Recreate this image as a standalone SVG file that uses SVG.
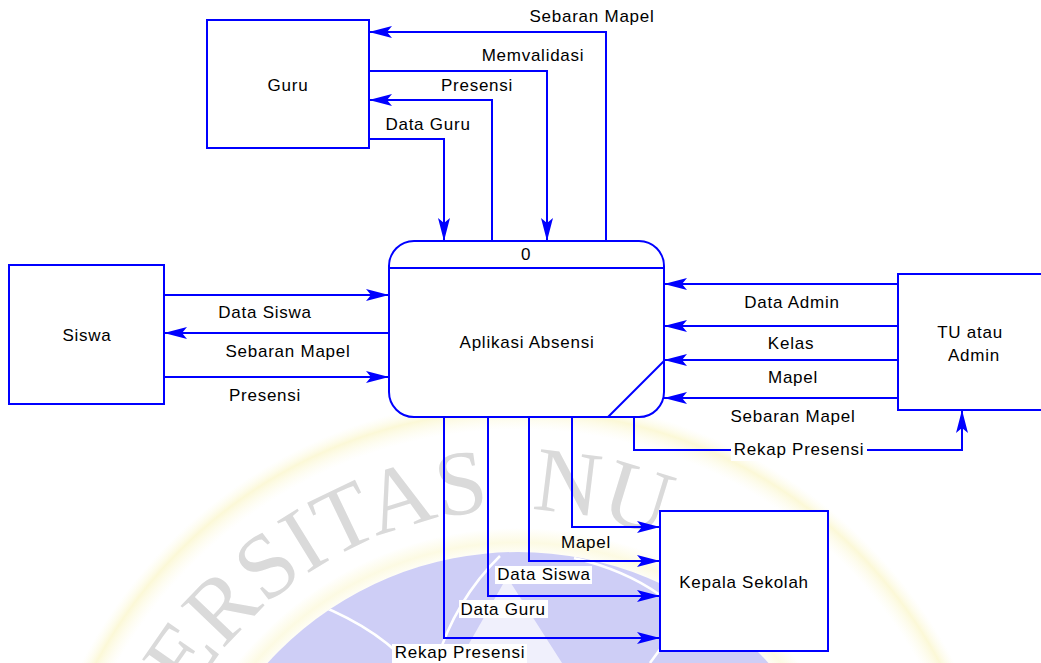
<svg xmlns="http://www.w3.org/2000/svg" xmlns:xlink="http://www.w3.org/1999/xlink" width="1041" height="663" viewBox="0 0 1041 663">
  <defs>
    <style>
      .box { fill: #ffffff; stroke: #0000ff; stroke-width: 2; }
      .flow { fill: none; stroke: #0000ff; stroke-width: 2; marker-end: url(#arrow); }
      .lbl { font-family: "Liberation Sans", Arial, sans-serif; font-size: 17px; letter-spacing: 0.75px; fill: #000000; text-anchor: middle; }
      .bg { fill: #ffffff; }
      .wm { font-family: "Liberation Serif", "Times New Roman", serif; font-size: 92px; word-spacing: 18px; fill: #dadada; }
    </style>
    <marker id="arrow" markerUnits="userSpaceOnUse" markerWidth="26" markerHeight="14" viewBox="-24 -7 26 14" refX="0" refY="0" orient="auto">
      <path d="M0,0 L-23,-6 L-18,0 L-23,6 Z" fill="#0000ff"/>
    </marker>
    <radialGradient id="ring" gradientUnits="userSpaceOnUse" cx="518" cy="890" r="495">
      <stop offset="0.93" stop-color="#fdfbe6" stop-opacity="0"/>
      <stop offset="0.968" stop-color="#fbf7d0" stop-opacity="0.85"/>
      <stop offset="0.995" stop-color="#fdfbe6" stop-opacity="0"/>
    </radialGradient>
    <radialGradient id="halo" gradientUnits="userSpaceOnUse" cx="518" cy="890" r="362">
      <stop offset="0.92" stop-color="#fbf7d0" stop-opacity="0"/>
      <stop offset="0.96" stop-color="#fbf7d0" stop-opacity="0.6"/>
      <stop offset="1" stop-color="#fbf7d0" stop-opacity="0"/>
    </radialGradient>
    <path id="wmArc" d="M138,890 A380,380 0 0 1 898,890"/>
    <clipPath id="globeClip"><circle cx="518" cy="890" r="338"/></clipPath>
  </defs>

  <rect x="0" y="0" width="1041" height="663" fill="#ffffff"/>

  <!-- faint emblem behind the chart -->
  <g id="watermark">
    <circle cx="518" cy="890" r="495" fill="url(#ring)"/>
    <circle cx="518" cy="890" r="362" fill="url(#halo)"/>
    <circle cx="518" cy="890" r="338" fill="#cecef6"/>
    <g clip-path="url(#globeClip)" fill="none" stroke="#ffffff" stroke-width="2.5">
      <path d="M300,598 Q370,622 408,663"/>
      <path d="M500,556 Q455,600 436,663"/>
      <path d="M574,558 Q625,570 660,595"/>
      <path d="M700,610 Q668,636 650,663"/>
    </g>
    <path d="M507,577 L458,663 L562,663 Z" fill="#ffffff" opacity="0.7"/>
    <text class="wm"><textPath xlink:href="#wmArc" startOffset="203">ERSITAS NU</textPath></text>
  </g>

  <!-- data flows -->
  <g id="connectors">
    <path class="flow" d="M606,241 V32 H369"/>
    <path class="flow" d="M369,71 H547 V241"/>
    <path class="flow" d="M492,241 V100 H369"/>
    <path class="flow" d="M369,139 H444 V241"/>

    <path class="flow" d="M164,295 H389"/>
    <path class="flow" d="M389,333 H164"/>
    <path class="flow" d="M164,377 H389"/>

    <path class="flow" d="M898,284 H664"/>
    <path class="flow" d="M898,326 H664"/>
    <path class="flow" d="M898,360 H664"/>
    <path class="flow" d="M898,398 H664"/>
    <path class="flow" d="M634,417 V450 H962 V410"/>

    <path class="flow" d="M572,417 V527 H660"/>
    <path class="flow" d="M529,417 V561 H660"/>
    <path class="flow" d="M488,417 V596 H660"/>
    <path class="flow" d="M444,417 V638 H660"/>
  </g>

  <g id="flow-labels">
    <text class="lbl" x="592" y="22">Sebaran Mapel</text>
    <text class="lbl" x="533" y="61">Memvalidasi</text>
    <text class="lbl" x="477" y="91">Presensi</text>
    <text class="lbl" x="428" y="130">Data Guru</text>

    <text class="lbl" x="265" y="318">Data Siswa</text>
    <text class="lbl" x="288" y="357">Sebaran Mapel</text>
    <text class="lbl" x="265" y="401">Presensi</text>

    <text class="lbl" x="792" y="308">Data Admin</text>
    <text class="lbl" x="791" y="349">Kelas</text>
    <text class="lbl" x="793" y="383">Mapel</text>
    <text class="lbl" x="793" y="422">Sebaran Mapel</text>
    <rect class="bg" x="731" y="441" width="136" height="20"/>
    <text class="lbl" x="799" y="455">Rekap Presensi</text>

    <text class="lbl" x="586" y="548">Mapel</text>
    <rect class="bg" x="495" y="566" width="97" height="18"/>
    <text class="lbl" x="544" y="580">Data Siswa</text>
    <rect class="bg" x="459" y="600" width="89" height="18"/>
    <text class="lbl" x="503" y="615">Data Guru</text>
    <rect class="bg" x="392" y="644" width="135" height="19"/>
    <text class="lbl" x="460" y="658">Rekap Presensi</text>
  </g>

  <g id="guru">
    <rect class="box" x="207" y="20" width="162" height="128"/>
    <text class="lbl" x="288" y="91">Guru</text>
  </g>

  <g id="siswa">
    <rect class="box" x="9" y="265" width="155" height="139"/>
    <text class="lbl" x="87" y="341">Siswa</text>
  </g>

  <g id="proses-0">
    <rect class="box" x="389" y="241" width="275" height="176" rx="25" ry="25"/>
    <line x1="389" y1="268" x2="664" y2="268" stroke="#0000ff" stroke-width="2"/>
    <line x1="664" y1="361" x2="608" y2="417" stroke="#0000ff" stroke-width="2"/>
    <text class="lbl" x="526" y="260">0</text>
    <text class="lbl" x="527" y="348">Aplikasi Absensi</text>
  </g>

  <g id="tu-admin">
    <rect class="box" x="898" y="274" width="160" height="136"/>
    <text class="lbl" x="970" y="338">TU atau</text>
    <text class="lbl" x="974" y="361">Admin</text>
  </g>

  <g id="kepala-sekolah">
    <rect class="box" x="660" y="511" width="168" height="140"/>
    <text class="lbl" x="744" y="588">Kepala Sekolah</text>
  </g>
</svg>
